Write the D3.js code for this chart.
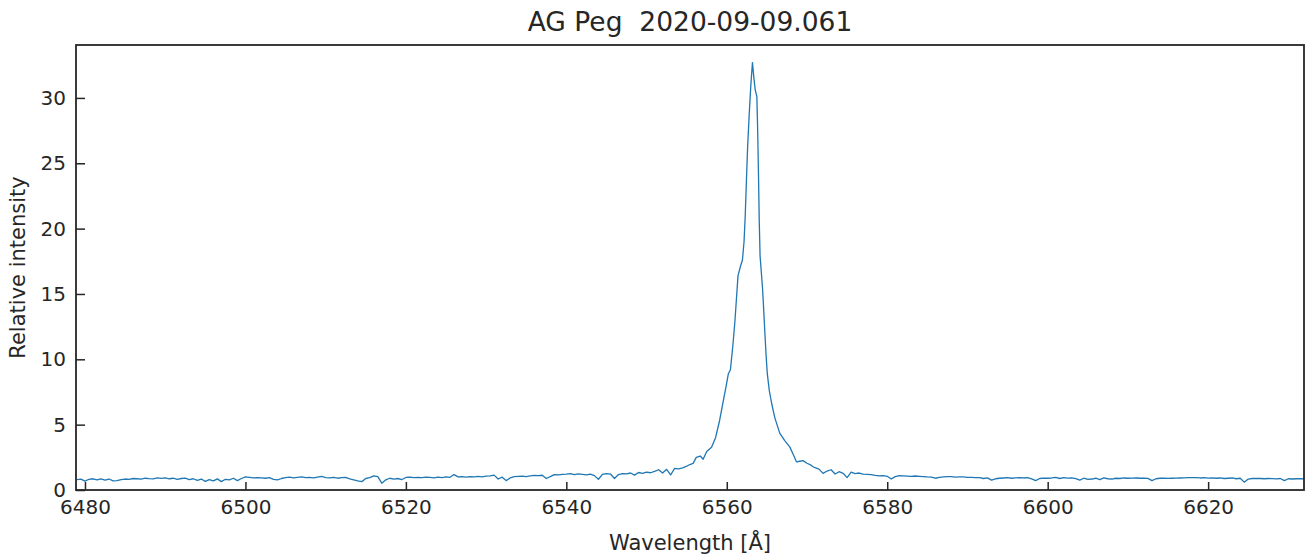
<!DOCTYPE html>
<html>
<head>
<meta charset="utf-8">
<script src="https://cdn.jsdelivr.net/npm/d3@7"></script>
<style>
  html, body { margin: 0; padding: 0; background: #fff; }
  #spectrum-chart { width: 1314px; height: 560px; }
  text { font-family: "DejaVu Sans", sans-serif; fill: #262626; }
</style>
</head>
<body>
<div id="spectrum-chart"></div>
<script>
/* AG Peg, H-alpha region — relative intensity vs wavelength */

const TITLE = 'AG Peg  2020-09-09.061';
const X_LABEL = 'Wavelength [Å]';
const Y_LABEL = 'Relative intensity';

const X_TICKS = [6480, 6500, 6520, 6540, 6560, 6580, 6600, 6620];
const Y_TICKS = [0, 5, 10, 15, 20, 25, 30];
const X_DOMAIN = [6478.88, 6631.95];
const Y_DOMAIN = [0, 34.05];

// blue continuum: sampled every 0.5 Å starting at 6479.0
const BLUE_START = 6479.0;
const BLUE_STEP = 0.5;
const BLUE_FLUX = [
  0.80, 0.83, 0.68, 0.82, 0.86, 0.78, 0.85, 0.75, 0.84, 0.70,
  0.72, 0.80, 0.84, 0.82, 0.88, 0.86, 0.83, 0.90, 0.87, 0.85,
  0.92, 0.89, 0.93, 0.86, 0.90, 0.82, 0.88, 0.91, 0.80, 0.86,
  0.74, 0.84, 0.66, 0.80, 0.70, 0.85, 0.64, 0.82, 0.78, 0.90,
  0.72, 0.88, 1.00, 0.96, 0.92, 0.95, 0.93, 0.90, 0.94, 0.82,
  0.78, 0.88, 0.95, 0.98, 0.93, 0.97, 1.00, 0.94, 0.96, 0.92,
  0.98, 1.04, 0.95, 0.92, 0.97, 0.90, 0.94, 0.96, 0.85, 0.78,
  0.70, 0.64, 0.88, 0.94, 1.08, 1.02, 0.52, 0.78, 0.90, 0.84,
  0.88, 0.80, 0.96, 0.98, 0.95, 0.97, 0.94, 0.99, 0.96, 0.93,
  0.98, 0.95, 1.00, 0.97, 1.18, 1.00, 1.03, 0.98, 1.02, 1.00,
  1.04, 1.01, 1.06, 1.08, 1.14, 0.84, 0.98, 0.72, 0.92, 1.02,
  1.04, 1.06, 1.03, 1.08, 1.12, 1.10, 1.13, 0.88, 1.02, 1.18,
  1.15, 1.20, 1.22, 1.26, 1.18, 1.24, 1.20, 1.15, 1.22, 1.10,
  0.82, 1.20, 1.26, 1.22, 0.88, 1.18, 1.26, 1.24, 1.30, 1.14,
  1.34, 1.28, 1.36, 1.32, 1.42, 1.55, 1.30, 1.58, 1.15, 1.66,
  1.62
];

// H-alpha emission core: [wavelength, intensity]
const LINE_CORE = [
  [6554.5, 1.70], [6555.0, 1.82], [6555.4, 1.95], [6555.8, 2.04], [6556.2, 2.50],
  [6556.7, 2.60], [6557.05, 2.35], [6557.5, 2.95], [6558.1, 3.27], [6558.6, 4.00],
  [6559.1, 5.30], [6559.5, 6.60], [6559.9, 7.90], [6560.2, 8.90], [6560.45, 9.20],
  [6560.75, 11.0], [6561.0, 12.8], [6561.2, 14.6], [6561.4, 16.4], [6561.7, 17.1],
  [6561.95, 17.6], [6562.15, 19.0], [6562.3, 21.0], [6562.45, 23.7], [6562.6, 26.3],
  [6562.8, 28.8], [6563.0, 31.0], [6563.2, 32.7], [6563.4, 31.4], [6563.55, 30.6],
  [6563.75, 30.1], [6563.85, 27.5], [6563.95, 24.2], [6564.05, 20.5], [6564.15, 17.9],
  [6564.45, 15.5], [6564.6, 13.8], [6564.75, 12.0], [6564.9, 10.3], [6565.05, 8.90],
  [6565.3, 7.60], [6565.6, 6.60], [6566.0, 5.50], [6566.6, 4.35], [6567.2, 3.80],
  [6567.85, 3.30], [6568.3, 2.70], [6568.7, 2.15], [6569.1, 2.20], [6569.5, 2.25],
  [6570.0, 2.05], [6570.5, 1.90], [6570.8, 1.76]
];

// red continuum: sampled every 0.5 Å starting at 6571.0
const RED_START = 6571.0;
const RED_STEP = 0.5;
const RED_FLUX = [
  1.72, 1.60, 1.27, 1.45, 1.55, 1.22, 1.40, 1.28, 0.95, 1.36,
  1.25, 1.30, 1.22, 1.20, 1.18, 1.12, 1.08, 1.10, 1.05, 0.84,
  1.02, 1.10, 1.08, 1.06, 1.04, 1.07, 1.05, 1.03, 1.00, 0.98,
  0.90, 0.96, 1.00, 1.03, 1.02, 0.98, 1.00, 1.01, 0.97, 0.96,
  0.94, 0.95, 0.88, 0.93, 0.76, 0.86, 0.90, 0.92, 0.94, 0.90,
  0.93, 0.95, 0.92, 0.94, 0.85, 0.72, 0.88, 0.91, 0.90, 0.92,
  0.96, 0.88, 0.94, 0.91, 0.93, 0.87, 0.76, 0.90, 0.82, 0.84,
  0.90, 0.80, 0.92, 0.86, 0.84, 0.90, 0.88, 0.92, 0.90, 0.91,
  0.92, 0.90, 0.91, 0.89, 0.72, 0.86, 0.90, 0.91, 0.89, 0.90,
  0.91, 0.92, 0.93, 0.95, 0.94, 0.95, 0.92, 0.94, 0.91, 0.93,
  0.90, 0.92, 0.88, 0.90, 0.92, 0.86, 0.90, 0.60, 0.84, 0.88,
  0.89, 0.88, 0.86, 0.88, 0.87, 0.85, 0.88, 0.72, 0.86, 0.84,
  0.86, 0.87, 0.85
];

(function () {
  'use strict';

  const LINE_COLOR = '#1f77b4';
  const AXIS_COLOR = '#262626';

  const width = 1314, height = 560;
  const margin = { top: 45, right: 10, bottom: 70, left: 76 };
  const x0 = margin.left, x1 = width - margin.right;
  const y0 = height - margin.bottom, y1 = margin.top;

  // stitch the three pieces into one spectrum
  const spectrum = [
    ...BLUE_FLUX.map((v, i) => [BLUE_START + i * BLUE_STEP, v]),
    ...LINE_CORE,
    ...RED_FLUX.map((v, i) => [RED_START + i * RED_STEP, v])
  ];

  const x = d3.scaleLinear().domain(X_DOMAIN).range([x0, x1]);
  const y = d3.scaleLinear().domain(Y_DOMAIN).range([y0, y1]);

  const svg = d3.select('#spectrum-chart')
    .append('svg')
    .attr('width', width)
    .attr('height', height)
    .attr('viewBox', `0 0 ${width} ${height}`);

  svg.append('defs').append('clipPath').attr('id', 'plot-clip')
    .append('rect')
    .attr('x', x0).attr('y', y1)
    .attr('width', x1 - x0).attr('height', y0 - y1);

  // spectrum line
  const line = d3.line()
    .x(d => x(d[0]))
    .y(d => y(d[1]));

  svg.append('path')
    .datum(spectrum)
    .attr('clip-path', 'url(#plot-clip)')
    .attr('fill', 'none')
    .attr('stroke', LINE_COLOR)
    .attr('stroke-width', 1.3)
    .attr('stroke-linejoin', 'round')
    .attr('d', line);

  // axes, ticks pointing inward
  const xAxis = svg.append('g')
    .attr('transform', `translate(0,${y0})`)
    .call(d3.axisBottom(x).tickValues(X_TICKS).tickFormat(d3.format('d'))
      .tickSizeInner(-8).tickSizeOuter(0).tickPadding(10));

  const yAxis = svg.append('g')
    .attr('transform', `translate(${x0},0)`)
    .call(d3.axisLeft(y).tickValues(Y_TICKS).tickFormat(d3.format('d'))
      .tickSizeInner(-9).tickSizeOuter(0).tickPadding(10));

  [xAxis, yAxis].forEach(ax => {
    ax.select('.domain').remove();
    ax.selectAll('.tick line').attr('stroke', AXIS_COLOR).attr('stroke-width', 1.5);
    ax.selectAll('.tick text')
      .attr('fill', AXIS_COLOR)
      .style('font-family', '"DejaVu Sans", sans-serif')
      .style('font-size', '20px');
  });

  // frame
  svg.append('rect')
    .attr('x', x0).attr('y', y1)
    .attr('width', x1 - x0).attr('height', y0 - y1)
    .attr('fill', 'none')
    .attr('stroke', AXIS_COLOR)
    .attr('stroke-width', 1.8);

  // title and axis labels
  svg.append('text')
    .attr('x', (x0 + x1) / 2).attr('y', 31)
    .attr('text-anchor', 'middle')
    .style('font-size', '26.5px')
    .style('white-space', 'pre')
    .text(TITLE);

  svg.append('text')
    .attr('x', (x0 + x1) / 2).attr('y', 550)
    .attr('text-anchor', 'middle')
    .style('font-size', '21px')
    .text(X_LABEL);

  svg.append('text')
    .attr('transform', `translate(25,${(y0 + y1) / 2}) rotate(-90)`)
    .attr('text-anchor', 'middle')
    .style('font-size', '21px')
    .text(Y_LABEL);
})();
</script>
</body>
</html>
